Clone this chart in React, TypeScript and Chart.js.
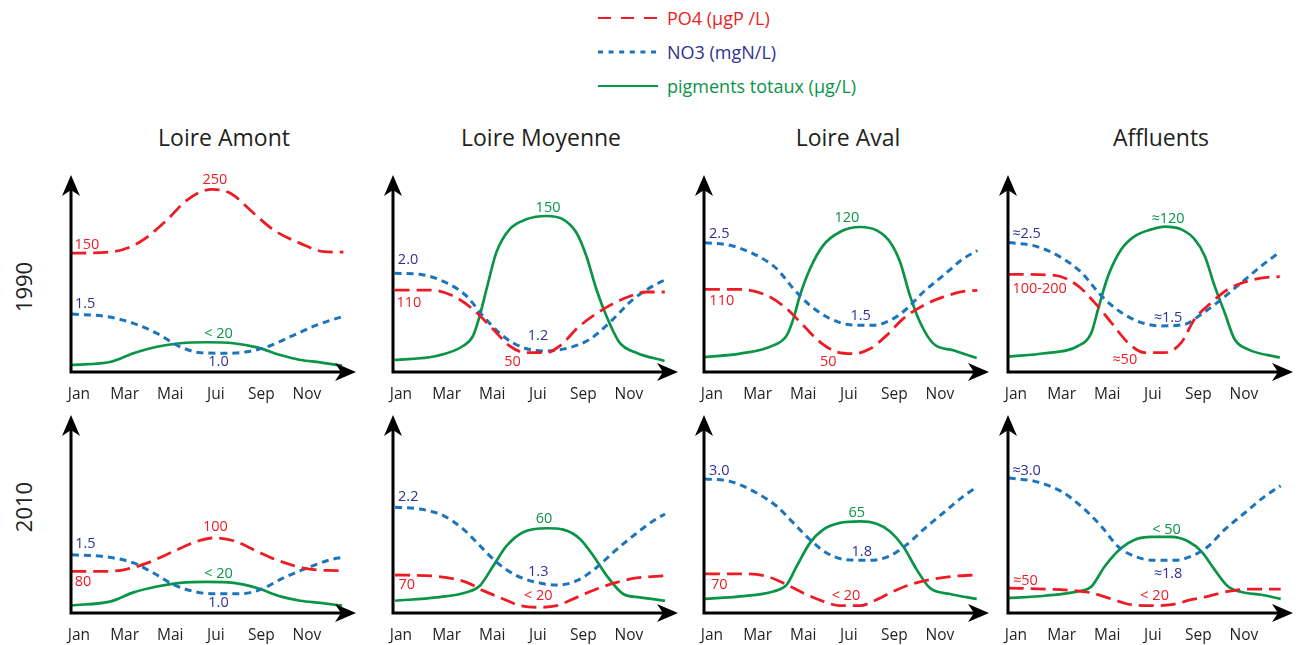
import React, { useEffect, useRef } from 'react';
import { Chart, registerables } from 'chart.js';

Chart.register(...registerables);

// ---------- text / categories ----------
const MONTH_TICKS = [1, 3, 5, 7, 9, 11];
const MONTH_LABELS = ['Jan', 'Mar', 'Mai', 'Jui', 'Sep', 'Nov'];
const SERIES_NAMES = ['PO4 (µgP /L)', 'NO3 (mgN/L)', 'pigments totaux (µg/L)'];
const REGIONS = ['Loire Amont', 'Loire Moyenne', 'Loire Aval', 'Affluents'];
const YEARS = ['1990', '2010'];

type Pt = [number, number]; // [month, relative level 0-100]
type Lbl = [number, number, string, number]; // [month, level, text, series index]

// ---------- Loire Amont 1990 ----------
const amont1990PO4: Pt[] = [[0.66, 60.3], [2.52, 61.1], [3.69, 66.1], [4.86, 77.2], [5.74, 87.3], [6.83, 92.7], [7.64, 90.7], [8.66, 80.6], [9.54, 72.1], [10.71, 65.3], [11.73, 61.1], [12.6, 60.8]];
const amont1990NO3: Pt[] = [[0.69, 29.4], [2.23, 28.1], [3.39, 24.7], [4.42, 19.6], [5.44, 12.8], [6.32, 9.8], [7.49, 9.5], [8.37, 10.3], [9.25, 12.8], [10.27, 17.9], [11.44, 23.9], [12.54, 28.1]];
const amont1990PIG: Pt[] = [[0.66, 3.6], [2.4, 5.2], [3.39, 9.5], [4.42, 12.8], [5.44, 14.6], [6.61, 15.1], [7.78, 14.6], [8.81, 12.5], [9.83, 8.6], [10.71, 6.1], [11.58, 4.9], [12.54, 3.2]];
const amont1990LBL: Lbl[] = [[6.96, 97.5, '250', 0], [1.35, 64.3, '150', 0], [1.27, 34.5, '1.5', 1], [7.12, 19.6, '< 20', 2], [7.12, 5.1, '1.0', 1]];

// ---------- Loire Moyenne 1990 ----------
const moyenne1990PO4: Pt[] = [[0.72, 41.6], [2.26, 41.6], [3.28, 38.6], [4.16, 31.8], [5.04, 21.7], [5.77, 13.2], [6.5, 9.8], [7.38, 9.8], [7.96, 13.2], [8.84, 23.4], [9.86, 31.8], [10.89, 37.8], [11.76, 40.6], [12.57, 40.6]];
const moyenne1990NO3: Pt[] = [[0.72, 50.1], [1.82, 49.6], [2.99, 45.3], [3.87, 38.6], [4.6, 28.4], [5.47, 18.3], [6.35, 12.4], [7.38, 10.7], [8.4, 12.4], [9.28, 16.6], [10.15, 25.1], [11.18, 36.9], [12.05, 43.7], [12.57, 46.7]];
const moyenne1990PIG: Pt[] = [[0.72, 6.1], [2.55, 8.1], [3.72, 13.2], [4.16, 18.3], [4.45, 28.4], [4.75, 42], [5.18, 60.6], [5.77, 72.5], [6.5, 77.5], [7.38, 79.2], [8.11, 77.5], [8.69, 70.8], [9.13, 58.9], [9.57, 42], [10.01, 28.4], [10.59, 14.9], [11.32, 9.8], [12.56, 5.6]];
const moyenne1990LBL: Lbl[] = [[7.45, 83.4, '150', 2], [1.31, 56.9, '2.0', 1], [1.35, 35.2, '110', 0], [7.01, 18.3, '1.2', 1], [5.89, 5.1, '50', 0]];

// ---------- Loire Aval 1990 ----------
const aval1990PO4: Pt[] = [[0.69, 41.9], [2.23, 41.9], [3.4, 38.9], [4.28, 32.1], [5.0, 23.7], [5.74, 15.2], [6.47, 10.2], [7.2, 9.3], [7.93, 11.8], [8.66, 18.6], [9.39, 27.1], [10.27, 33.8], [11.15, 38.1], [12.02, 40.9], [12.64, 41.4]];
const aval1990NO3: Pt[] = [[0.69, 65.6], [1.79, 64.3], [2.96, 59.2], [3.84, 52.4], [4.57, 42.3], [5.3, 33.8], [6.18, 27.1], [7.05, 24], [8.07, 23.7], [8.81, 26.2], [9.54, 32.1], [10.27, 40.6], [11.15, 49], [12.02, 57.5], [12.64, 61.7]];
const aval1990PIG: Pt[] = [[0.69, 7.6], [2.23, 9.3], [3.69, 13.5], [4.28, 18.6], [4.57, 27], [4.86, 38.9], [5.3, 52.4], [5.88, 64.3], [6.61, 71.1], [7.49, 73.6], [8.22, 71.9], [8.81, 66], [9.25, 55.8], [9.68, 38.9], [10.12, 25.4], [10.71, 14.4], [11.58, 11], [12.61, 7.1]];
const aval1990LBL: Lbl[] = [[6.92, 78.3, '120', 2], [1.32, 70.2, '2.5', 1], [1.43, 36.3, '110', 0], [7.52, 28.4, '1.5', 1], [6.1, 5.1, '50', 0]];

// ---------- Affluents 1990 ----------
const affl1990PO4: Pt[] = [[0.68, 49.6], [2.7, 49.1], [3.72, 43.7], [4.45, 35.2], [5.18, 25.1], [5.91, 14.9], [6.64, 9.8], [7.52, 9.8], [8.25, 14.9], [8.83, 26.8], [9.57, 35.2], [10.3, 42], [11.18, 46.2], [11.91, 47.9], [12.57, 48.4]];
const affl1990NO3: Pt[] = [[0.68, 65.7], [1.82, 64], [2.99, 58.1], [3.87, 50.5], [4.75, 38.6], [5.62, 30.2], [6.5, 25.1], [7.38, 23.4], [8.4, 24.2], [9.13, 29.3], [10.01, 36.9], [10.89, 45.4], [11.76, 53.8], [12.57, 60.9]];
const affl1990PIG: Pt[] = [[0.68, 7.8], [2.26, 9.5], [3.72, 13.2], [4.31, 20], [4.6, 31.8], [5.04, 48.7], [5.62, 62.3], [6.21, 69], [6.94, 72.4], [7.52, 73.8], [8.25, 72.4], [8.83, 67.4], [9.28, 58.9], [9.71, 43.7], [10.15, 30.2], [10.59, 16.6], [11.18, 11.5], [12.57, 7.3]];
const affl1990LBL: Lbl[] = [[7.67, 77.9, '≈120', 2], [1.46, 69.9, '≈2.5', 1], [2.04, 42.3, '100-200', 0], [7.67, 27.6, '≈1.5', 1], [5.77, 6.4, '≈50', 0]];

// ---------- Loire Amont 2010 ----------
const amont2010PO4: Pt[] = [[0.66, 21], [2.23, 21], [3.11, 22.2], [3.98, 25.2], [5.15, 31.1], [6.18, 36.2], [6.9, 37.9], [7.78, 36.5], [8.81, 31.1], [9.83, 26.1], [10.85, 22.7], [11.88, 21.5], [12.61, 21.4]];
const amont2010NO3: Pt[] = [[0.69, 29.4], [2.23, 28.3], [3.39, 25.3], [4.27, 20.2], [5.15, 14.3], [6.03, 10.9], [6.9, 9.7], [8.07, 9.7], [8.95, 11.8], [9.97, 17.7], [11.0, 22.7], [12.02, 26.9], [12.53, 28.1]];
const amont2010PIG: Pt[] = [[0.66, 3.8], [2.4, 5.9], [3.39, 10.4], [4.42, 13.4], [5.44, 15.2], [6.61, 15.7], [7.78, 15.2], [8.81, 12.6], [9.83, 8.4], [10.71, 6.2], [11.58, 5.1], [12.54, 3.7]];
const amont2010LBL: Lbl[] = [[6.98, 43.4, '100', 0], [1.28, 35, '1.5', 1], [1.18, 15.5, '80', 0], [7.12, 19.8, '< 20', 2], [7.12, 5.1, '1.0', 1]];

// ---------- Loire Moyenne 2010 ----------
const moyenne2010PO4: Pt[] = [[0.74, 19.2], [2.57, 18.5], [3.88, 15.5], [4.61, 11.3], [5.49, 7.1], [6.22, 3.7], [7.1, 2.9], [7.83, 3.7], [8.71, 7.9], [9.58, 12.1], [10.46, 15.5], [11.34, 17.7], [12.58, 18.8]];
const moyenne2010NO3: Pt[] = [[0.74, 53.4], [1.83, 52.5], [2.86, 49.2], [3.73, 42.4], [4.46, 34], [5.2, 25.6], [6.07, 18.9], [6.95, 15.5], [7.83, 14.1], [8.71, 16.3], [9.58, 23], [10.31, 30.6], [11.19, 39], [12.07, 46.6], [12.58, 50]];
const moyenne2010PIG: Pt[] = [[0.74, 6.2], [2.57, 7.9], [3.88, 10.5], [4.46, 13.8], [5.05, 23.9], [5.64, 34], [6.36, 40.8], [7.39, 42.8], [8.12, 42.1], [8.85, 37.4], [9.43, 29], [10.02, 18.9], [10.75, 9.6], [11.48, 7.9], [12.58, 6.2]];
const moyenne2010LBL: Lbl[] = [[1.32, 58.4, '2.2', 1], [7.27, 47.5, '60', 2], [7.02, 20.6, '1.3', 1], [1.25, 14.1, '70', 0], [7.02, 8.4, '< 20', 0]];

// ---------- Loire Aval 2010 ----------
const aval2010PO4: Pt[] = [[0.69, 19.8], [2.23, 19.8], [3.4, 18.5], [4.28, 14.3], [5.0, 10.1], [5.88, 5.9], [6.61, 3.7], [7.49, 3.7], [8.22, 6.7], [8.95, 10.9], [9.68, 14.3], [10.56, 16.8], [11.58, 18.5], [12.64, 19.3]];
const aval2010NO3: Pt[] = [[0.69, 67.7], [1.79, 66.5], [2.96, 60.6], [3.84, 53.9], [4.57, 45.5], [5.3, 37], [6.03, 30.3], [6.91, 26.9], [7.93, 26.6], [8.81, 28.9], [9.54, 34.5], [10.27, 42.1], [11.14, 50.5], [12.02, 58.9], [12.64, 63.9]];
const aval2010PIG: Pt[] = [[0.69, 7.1], [2.23, 8.4], [3.69, 10.9], [4.28, 14.3], [4.71, 23.5], [5.3, 35.4], [5.88, 42.1], [6.61, 45.5], [7.49, 46.3], [8.22, 45.1], [8.81, 41.2], [9.39, 33.6], [9.98, 21.9], [10.56, 12.6], [11.44, 9.6], [12.61, 7.1]];
const aval2010LBL: Lbl[] = [[1.32, 72, '3.0', 1], [7.35, 50.5, '65', 2], [7.57, 31.1, '1.8', 1], [1.32, 14.3, '70', 0], [6.88, 8.7, '< 20', 0]];

// ---------- Affluents 2010 ----------
const affl2010PO4: Pt[] = [[0.68, 12.6], [2.26, 12.1], [3.43, 11.4], [4.31, 10.1], [5.18, 7.1], [6.06, 4.2], [6.94, 3.7], [7.82, 4.2], [8.69, 6.7], [9.42, 8.4], [10.3, 10.9], [11.18, 12.1], [12.61, 12.1]];
const affl2010NO3: Pt[] = [[0.68, 68.2], [1.82, 66.5], [2.99, 61.4], [3.87, 53.8], [4.75, 43.7], [5.47, 33.6], [6.21, 28.6], [7.08, 26.6], [7.96, 26.6], [8.84, 29.4], [9.42, 33.6], [10.15, 42.1], [11.03, 50.5], [11.91, 58.9], [12.61, 64.3]];
const affl2010PIG: Pt[] = [[0.68, 7.6], [2.26, 8.7], [3.72, 10.9], [4.31, 13.4], [4.89, 23.5], [5.62, 32.8], [6.21, 37], [6.94, 38.4], [7.82, 38.4], [8.54, 36.2], [9.13, 31.1], [9.71, 21.9], [10.3, 13.4], [10.89, 10.6], [11.76, 9.2], [12.61, 7.1]];
const affl2010LBL: Lbl[] = [[1.46, 72, '≈3.0', 1], [7.6, 42.1, '< 50', 2], [7.67, 19.8, '≈1.8', 1], [1.41, 16, '≈50', 0], [7.08, 8.7, '< 20', 0]];

// ---------- styles / layout ----------
const FONT = '"Open Sans", "Noto Sans", sans-serif';
const LINE_COLORS = ['#ED1C24', '#1C75BC', '#0A9447'];
const TEXT_COLORS = ['#ED1C24', '#2E3192', '#0A9447'];
const INK = '#231F20';
const X_MIN = 0.65;
const X_MAX = 13.15;
const AXIS_X = [71, 393, 704, 1008];
const ROW_TOP = [175, 415];
const ROW_BOTTOM = [372, 613];
const AREA_W = 285;
const PAD_L = 30;
const PAD_R = 12;
const PAD_T = 10;
const XSCALE_H = 34;
const TITLE_X = [224, 541, 848, 1161];

interface PanelCfg { col: number; row: number; po4: Pt[]; no3: Pt[]; pig: Pt[]; labels: Lbl[] }

const PANELS: PanelCfg[] = [
  { col: 0, row: 0, po4: amont1990PO4, no3: amont1990NO3, pig: amont1990PIG, labels: amont1990LBL },
  { col: 1, row: 0, po4: moyenne1990PO4, no3: moyenne1990NO3, pig: moyenne1990PIG, labels: moyenne1990LBL },
  { col: 2, row: 0, po4: aval1990PO4, no3: aval1990NO3, pig: aval1990PIG, labels: aval1990LBL },
  { col: 3, row: 0, po4: affl1990PO4, no3: affl1990NO3, pig: affl1990PIG, labels: affl1990LBL },
  { col: 0, row: 1, po4: amont2010PO4, no3: amont2010NO3, pig: amont2010PIG, labels: amont2010LBL },
  { col: 1, row: 1, po4: moyenne2010PO4, no3: moyenne2010NO3, pig: moyenne2010PIG, labels: moyenne2010LBL },
  { col: 2, row: 1, po4: aval2010PO4, no3: aval2010NO3, pig: aval2010PIG, labels: aval2010LBL },
  { col: 3, row: 1, po4: affl2010PO4, no3: affl2010NO3, pig: affl2010PIG, labels: affl2010LBL },
];

const toXY = (pts: Pt[]) => pts.map(([x, y]) => ({ x, y }));

const decoPlugin = {
  id: 'panelDeco',
  afterDraw(chart: any, _args: any, opts: any) {
    const { ctx, chartArea } = chart;
    const { left, right, top, bottom } = chartArea;
    ctx.save();
    ctx.strokeStyle = '#000';
    ctx.fillStyle = '#000';
    ctx.lineWidth = 3;
    ctx.lineCap = 'butt';
    // axes
    ctx.beginPath();
    ctx.moveTo(left, bottom + 1.5);
    ctx.lineTo(left, top + 12);
    ctx.moveTo(left - 1.5, bottom);
    ctx.lineTo(right - 12, bottom);
    ctx.stroke();
    // arrowheads
    ctx.beginPath();
    ctx.moveTo(left, top);
    ctx.lineTo(left - 9, top + 21);
    ctx.lineTo(left, top + 15);
    ctx.lineTo(left + 9, top + 21);
    ctx.closePath();
    ctx.fill();
    ctx.beginPath();
    ctx.moveTo(right, bottom);
    ctx.lineTo(right - 21, bottom - 9);
    ctx.lineTo(right - 15, bottom);
    ctx.lineTo(right - 21, bottom + 9);
    ctx.closePath();
    ctx.fill();
    // value labels
    const xs = chart.scales.x;
    const ys = chart.scales.y;
    ctx.font = `14.5px ${FONT}`;
    ctx.textAlign = 'center';
    ctx.textBaseline = 'middle';
    (opts.labels as Lbl[]).forEach(([m, lv, text, s]) => {
      ctx.fillStyle = TEXT_COLORS[s];
      ctx.fillText(text, xs.getPixelForValue(m), ys.getPixelForValue(lv));
    });
    ctx.restore();
  },
};

function Panel({ cfg }: { cfg: PanelCfg }) {
  const ref = useRef<HTMLCanvasElement>(null);
  const areaH = ROW_BOTTOM[cfg.row] - ROW_TOP[cfg.row];
  const W = PAD_L + AREA_W + PAD_R;
  const H = PAD_T + areaH + XSCALE_H;
  useEffect(() => {
    const chart = new Chart(ref.current as HTMLCanvasElement, {
      type: 'line',
      data: {
        datasets: [
          { label: SERIES_NAMES[0], data: toXY(cfg.po4), borderColor: LINE_COLORS[0], borderWidth: 2.8, borderDash: [15, 7], pointRadius: 0, cubicInterpolationMode: 'monotone', fill: false },
          { label: SERIES_NAMES[1], data: toXY(cfg.no3), borderColor: LINE_COLORS[1], borderWidth: 3, borderDash: [7, 5], pointRadius: 0, cubicInterpolationMode: 'monotone', fill: false },
          { label: SERIES_NAMES[2], data: toXY(cfg.pig), borderColor: LINE_COLORS[2], borderWidth: 2.7, pointRadius: 0, cubicInterpolationMode: 'monotone', fill: false },
        ] as any,
      },
      options: {
        responsive: false,
        animation: false,
        events: [],
        layout: { padding: { left: PAD_L, right: PAD_R, top: PAD_T, bottom: 0 } },
        plugins: {
          legend: { display: false },
          tooltip: { enabled: false },
          panelDeco: { labels: cfg.labels },
        } as any,
        scales: {
          x: {
            type: 'linear',
            min: X_MIN,
            max: X_MAX,
            grid: { display: false, drawTicks: false },
            border: { display: false },
            afterBuildTicks: (s: any) => { s.ticks = MONTH_TICKS.map((v) => ({ value: v })); },
            afterFit: (s: any) => { s.height = XSCALE_H; },
            ticks: {
              autoSkip: false,
              maxRotation: 0,
              padding: 13,
              color: INK,
              font: { family: FONT, size: 15.5 },
              callback: (v: any) => MONTH_LABELS[MONTH_TICKS.indexOf(Number(v))] ?? '',
            },
          },
          y: { type: 'linear', min: 0, max: 100, display: false },
        },
      } as any,
      plugins: [decoPlugin],
    });
    return () => chart.destroy();
  }, [cfg]);
  return (
    <canvas
      ref={ref}
      width={W}
      height={H}
      style={{ position: 'absolute', left: AXIS_X[cfg.col] - PAD_L, top: ROW_TOP[cfg.row] - PAD_T, width: W, height: H }}
    />
  );
}

const LEGEND_Y = [18, 52, 86];
const LEGEND_DASH = ['13 10', '5 5.6', ''];
const LEGEND_W = [2, 3, 2];

export default function App() {
  return (
    <div style={{ position: 'absolute', left: 0, top: 0, width: 1302, height: 645, background: '#fff', fontFamily: FONT, overflow: 'hidden' }}>
      <svg width={1302} height={110} style={{ position: 'absolute', left: 0, top: 0 }}>
        {LEGEND_Y.map((y, i) => (
          <line key={i} x1={598} x2={658} y1={y} y2={y} stroke={LINE_COLORS[i]} strokeWidth={LEGEND_W[i]} strokeDasharray={LEGEND_DASH[i] || undefined} />
        ))}
      </svg>
      {SERIES_NAMES.map((name, i) => (
        <div key={name} style={{ position: 'absolute', left: 667, top: LEGEND_Y[i] - 13, height: 26, lineHeight: '26px', fontSize: 18, color: TEXT_COLORS[i], whiteSpace: 'nowrap' }}>
          {name}
        </div>
      ))}
      {REGIONS.map((r, i) => (
        <div key={r} style={{ position: 'absolute', left: TITLE_X[i], top: 121, transform: 'translateX(-50%)', fontSize: 23, lineHeight: '32px', color: INK, whiteSpace: 'nowrap' }}>
          {r}
        </div>
      ))}
      {YEARS.map((y, i) => (
        <div key={y} style={{ position: 'absolute', left: 23, top: i === 0 ? 287 : 507, transform: 'translate(-50%, -50%) rotate(-90deg)', fontSize: 22, lineHeight: '30px', color: INK, whiteSpace: 'nowrap' }}>
          {y}
        </div>
      ))}
      {PANELS.map((p, i) => (
        <Panel key={i} cfg={p} />
      ))}
    </div>
  );
}
